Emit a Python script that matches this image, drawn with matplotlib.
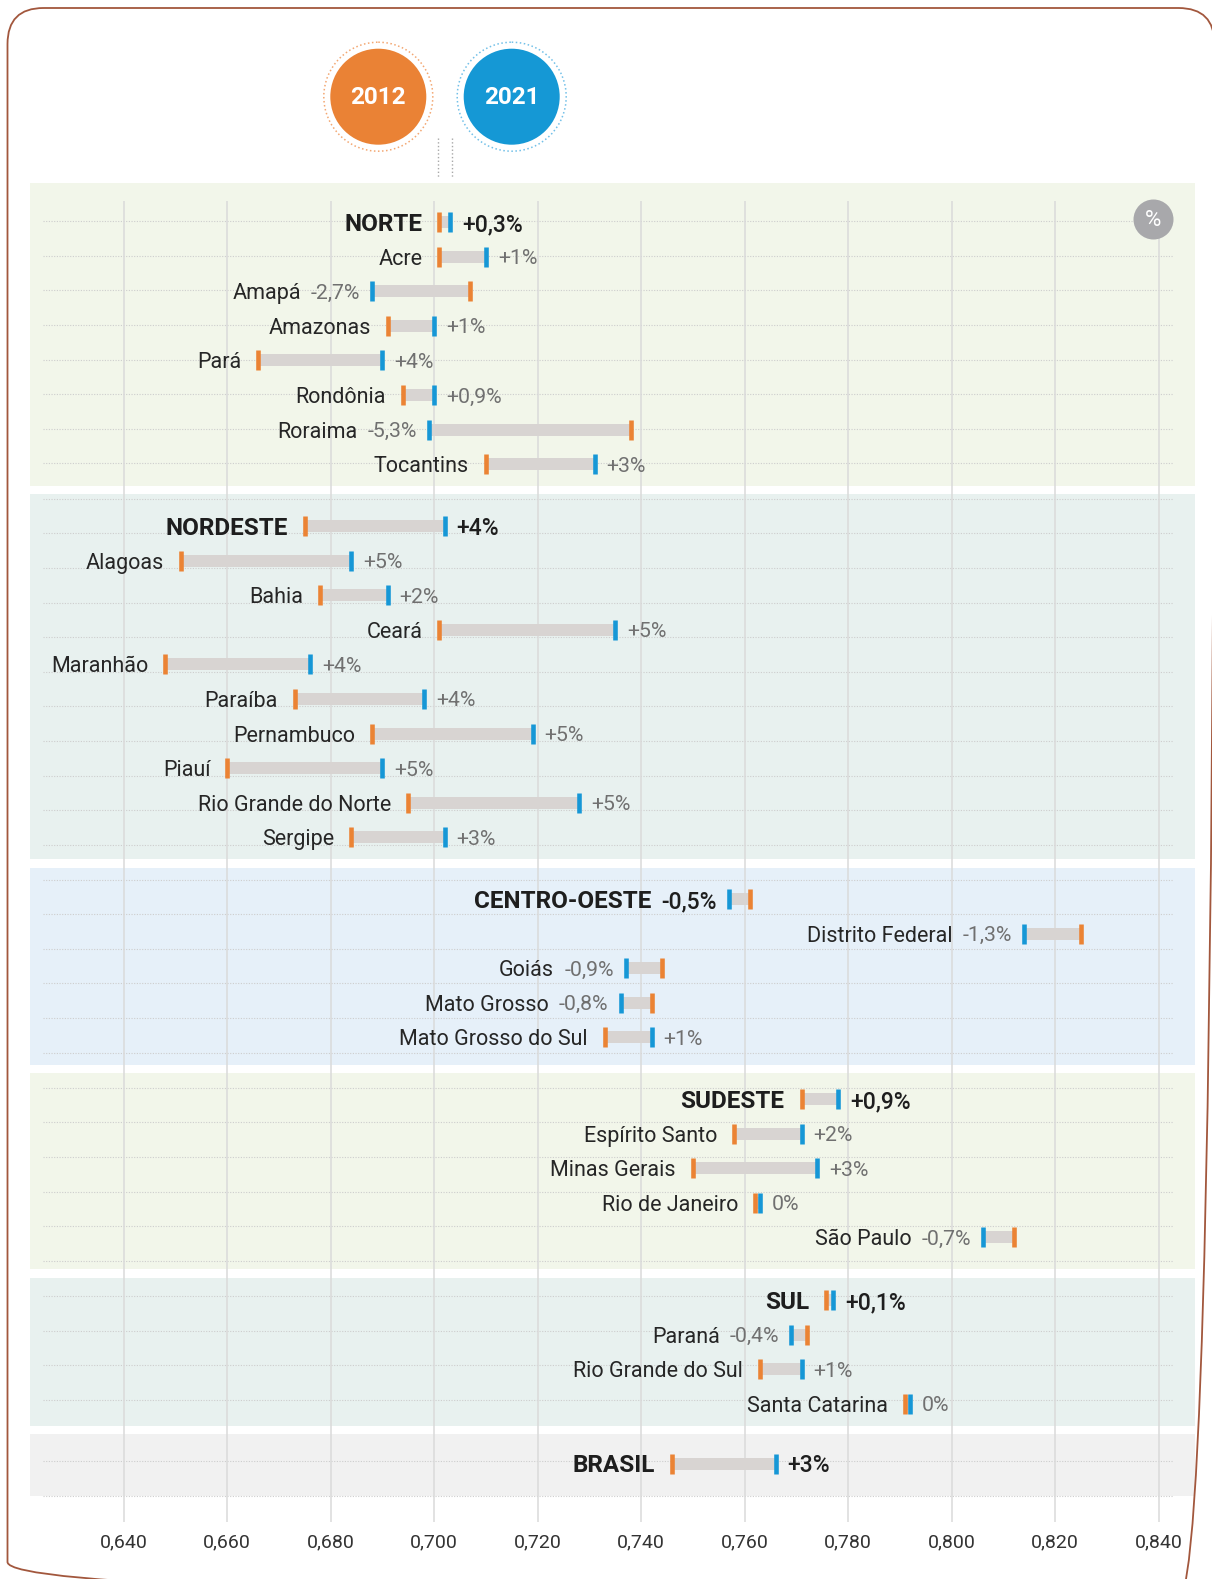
import matplotlib
matplotlib.use('Agg')
import matplotlib.pyplot as plt
from matplotlib.patches import Circle, FancyBboxPatch, Rectangle

plt.rcParams['font.family'] = ['Roboto', 'DejaVu Sans']

# IDHM 2012 -> 2021
regions = ['NORTE', 'NORDESTE', 'CENTRO-OESTE', 'SUDESTE', 'SUL', 'BRASIL']
region_2012 = [0.701, 0.675, 0.761, 0.771, 0.7758, 0.746]
region_2021 = [0.703, 0.702, 0.757, 0.778, 0.7771, 0.766]
region_pct = ['+0,3%', '+4%', '-0,5%', '+0,9%', '+0,1%', '+3%']

norte = ['Acre', 'Amapá', 'Amazonas', 'Pará', 'Rondônia', 'Roraima', 'Tocantins']
norte_2012 = [0.701, 0.707, 0.691, 0.666, 0.694, 0.738, 0.710]
norte_2021 = [0.710, 0.688, 0.700, 0.690, 0.700, 0.699, 0.731]
norte_pct = ['+1%', '-2,7%', '+1%', '+4%', '+0,9%', '-5,3%', '+3%']

nordeste = ['Alagoas', 'Bahia', 'Ceará', 'Maranhão', 'Paraíba', 'Pernambuco',
            'Piauí', 'Rio Grande do Norte', 'Sergipe']
nordeste_2012 = [0.651, 0.678, 0.701, 0.648, 0.673, 0.688, 0.660, 0.695, 0.684]
nordeste_2021 = [0.684, 0.691, 0.735, 0.676, 0.698, 0.719, 0.690, 0.728, 0.702]
nordeste_pct = ['+5%', '+2%', '+5%', '+4%', '+4%', '+5%', '+5%', '+5%', '+3%']

centro = ['Distrito Federal', 'Goiás', 'Mato Grosso', 'Mato Grosso do Sul']
centro_2012 = [0.825, 0.744, 0.742, 0.733]
centro_2021 = [0.814, 0.737, 0.736, 0.742]
centro_pct = ['-1,3%', '-0,9%', '-0,8%', '+1%']

sudeste = ['Espírito Santo', 'Minas Gerais', 'Rio de Janeiro', 'São Paulo']
sudeste_2012 = [0.758, 0.750, 0.762, 0.812]
sudeste_2021 = [0.771, 0.774, 0.763, 0.806]
sudeste_pct = ['+2%', '+3%', '0%', '-0,7%']

sul = ['Paraná', 'Rio Grande do Sul', 'Santa Catarina']
sul_2012 = [0.772, 0.763, 0.791]
sul_2021 = [0.769, 0.771, 0.792]
sul_pct = ['-0,4%', '+1%', '0%']

ticks = [0.640, 0.660, 0.680, 0.700, 0.720, 0.740, 0.760, 0.780, 0.800, 0.820, 0.840]
tick_labels = ['0,640', '0,660', '0,680', '0,700', '0,720', '0,740',
               '0,760', '0,780', '0,800', '0,820', '0,840']

states = [(norte, norte_2012, norte_2021, norte_pct),
          (nordeste, nordeste_2012, nordeste_2021, nordeste_pct),
          (centro, centro_2012, centro_2021, centro_pct),
          (sudeste, sudeste_2012, sudeste_2021, sudeste_pct),
          (sul, sul_2012, sul_2021, sul_pct),
          ([], [], [], [])]

# layout (pixels)
W, H = 1212, 1579
PX = 5174.0                     # pixels per index unit
XL = 0.640 - 123.8 / PX
XR = XL + W / PX
ROW = 34.6
panel_top = [182.7, 494.2, 867.7, 1073.0, 1278.4, 1434.4]
panel_bot = [486.2, 858.6, 1064.5, 1269.3, 1426.4, 1495.8]
panel_col = ['#f2f6ea', '#e8f1ef', '#e6f0f9', '#f2f6ea', '#e8f1ef', '#f1f1f1']
first_row = [222.0, 526.0, 899.0, 1099.0, 1300.0, 1463.5]
dot_start = [221.2, 498.7, 879.6, 1087.8, 1296.0, 1461.2]
dot_count = [8, 11, 6, 6, 4, 2]

ORANGE = '#eb8334'
BLUE = '#1697d6'
BAR = '#d8d4d2'

fig = plt.figure(figsize=(W / 100, H / 100), dpi=100)
bg = fig.add_axes([0, 0, 1, 1])
bg.set_xlim(0, W)
bg.set_ylim(H, 0)
bg.axis('off')
ax = fig.add_axes([0, 0, 1, 1])
ax.set_xlim(XL, XR)
ax.set_ylim(H, 0)
ax.axis('off')
ax.patch.set_alpha(0)
fg = fig.add_axes([0, 0, 1, 1])
fg.set_xlim(0, W)
fg.set_ylim(H, 0)
fg.axis('off')
fg.patch.set_alpha(0)

# panels and dotted guide lines
for i in range(len(regions)):
    bg.add_patch(Rectangle((30, panel_top[i]), 1165, panel_bot[i] - panel_top[i],
                           color=panel_col[i], lw=0, zorder=0))
    for k in range(dot_count[i]):
        yy = dot_start[i] + k * ROW
        bg.plot([43, 1173], [yy, yy], color='#cdcdcd', lw=0.8,
                ls=(0, (1, 1.4)), zorder=1)

# vertical grid + tick labels
ax.vlines(ticks, 201, 1522, colors='#dadada', lw=1.1, zorder=1)
for t, lab in zip(ticks, tick_labels):
    ax.text(t, 1542, lab, ha='center', va='center', fontsize=14, color='#333333')

renderer = fig.canvas.get_renderer()


def draw_row(y, name, v12, v21, pct, big=False):
    ax.barh(y, v21 - v12, left=v12, height=12, color=BAR, zorder=3)
    ax.vlines(v12, y - 10, y + 10, colors=ORANGE, lw=3.3, zorder=4)
    ax.vlines(v21, y - 10, y + 10, colors=BLUE, lw=3.3, zorder=5)
    if big:
        name_kw = dict(fontsize=17.5, fontweight='bold', color='#1e1e1e')
        pct_kw = dict(fontsize=16.5, fontweight='medium', color='#1e1e1e')
    else:
        name_kw = dict(fontsize=15.5, color='#262626')
        pct_kw = dict(fontsize=15.3, color='#707070')
    common = dict(textcoords='offset pixels', va='center_baseline', zorder=6)
    if v21 >= v12:
        ax.annotate(name, (v12, y), xytext=(-17, 0), ha='right', **common, **name_kw)
        ax.annotate(pct, (v21, y), xytext=(12, 0), ha='left', **common, **pct_kw)
    else:
        t = ax.annotate(pct, (v21, y), xytext=(-12, 0), ha='right', **common, **pct_kw)
        w = t.get_window_extent(renderer).width
        ax.annotate(name, (v21, y), xytext=(-12 - w - 10, 0), ha='right',
                    **common, **name_kw)


for i, reg in enumerate(regions):
    y0 = first_row[i]
    draw_row(y0, reg, region_2012[i], region_2021[i], region_pct[i], big=True)
    names, a, b, p = states[i]
    for j in range(len(names)):
        draw_row(y0 + (j + 1) * ROW, names[j], a[j], b[j], p[j])

# legend circles
for cx, col, ring, lab in [(378.3, '#ea8235', '#f3a772', '2012'),
                           (511.7, '#1598d5', '#72c0e8', '2021')]:
    fg.add_patch(Circle((cx, 96.7), 48, color=col, lw=0))
    fg.add_patch(Circle((cx, 96.7), 54.5, fill=False, ec=ring, lw=1.1, ls=':'))
    fg.text(cx, 97, lab, ha='center', va='center', color='white',
            fontsize=17.5, fontweight='bold')
fg.vlines([438.3, 451.7], 138, 177, colors='#a8a8a8', lw=1, linestyles=':')

# % badge
fg.add_patch(Circle((1153.5, 219.5), 20, color='#a8a8ab', lw=0, zorder=5))
fg.text(1153.5, 220, '%', ha='center', va='center', color='white', fontsize=16, zorder=6)

# frame
fg.add_patch(FancyBboxPatch((7.5, 8), 1207, 1590,
                            boxstyle='round,pad=0,rounding_size=36',
                            fill=False, ec='#a2573d', lw=1.3))

fig.savefig('out.png', dpi=100)
